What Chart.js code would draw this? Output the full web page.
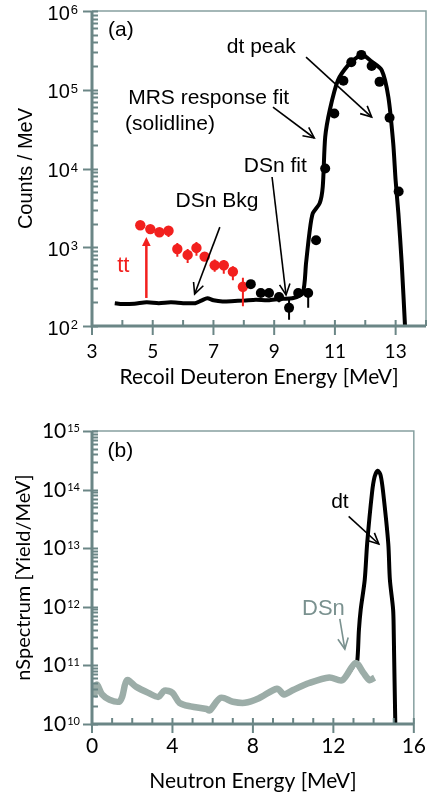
<!DOCTYPE html>
<html>
<head>
<meta charset="utf-8">
<script src="https://cdn.jsdelivr.net/npm/chart.js@4.4.1/dist/chart.umd.min.js"></script>
<style>
  html, body { margin: 0; padding: 0; background: #fff; }
  canvas { display: block; }
</style>
</head>
<body>
<canvas id="recoil" width="436" height="400"></canvas>
<canvas id="neutron" width="436" height="397"></canvas>
<script>
// ---- panel (a): recoil deuteron spectrum ----
const fitE = [3.75, 4.0, 4.4, 4.8, 5.2, 5.6, 6.0, 6.4, 6.6, 6.8, 7.0, 7.3, 7.7, 8.0, 8.4, 8.8, 9.2, 9.6,
  9.94, 10.05, 10.16, 10.27, 10.5, 10.6, 10.68, 10.83, 11.1, 11.43, 11.76, 11.93, 12.2, 12.54, 12.76, 12.92, 13.0, 13.09, 13.2, 13.31];
const fitCounts = [195, 190, 192, 200, 195, 200, 195, 195, 210, 225, 212, 205, 208, 210, 215, 212, 222, 225,
  263, 630, 1510, 2690, 3630, 5890, 25000, 55000, 132000, 204000, 263000, 275000, 229000, 178000, 81000, 21000, 7000, 2700, 630, 98];

const dataE = [8.23, 8.56, 8.83, 9.16, 9.49, 9.79, 10.12, 10.38, 10.68, 10.98, 11.28, 11.54, 11.87, 12.21, 12.47, 12.80, 13.10];
const dataCounts = [340, 263, 263, 234, 170, 263, 263, 1230, 10000, 50000, 130000, 224000, 277000, 200000, 126000, 44000, 5100];
const dataLo = [300, 235, 235, 200, 120, 230, 170, null, null, null, null, null, null, null, null, null, null];
const dataHi = [380, 290, 290, 265, 215, 295, 300, null, null, null, null, null, null, null, null, null, null];

const ttE = [4.59, 4.92, 5.22, 5.52, 5.81, 6.15, 6.44, 6.71, 7.04, 7.34, 7.64, 7.97];
const ttCounts = [1900, 1700, 1550, 1620, 950, 800, 980, 760, 590, 590, 490, 315];
const ttLo = [1750, 1550, 1400, 1350, 760, 630, 780, 680, 490, 460, 380, 178];
const ttHi = [2050, 1850, 1700, 1850, 1130, 950, 1170, 850, 700, 690, 575, 410];

const recoilXTicks = [3, 5, 7, 9, 11, 13];
const recoilDecades = [2, 3, 4, 5, 6];

// ---- panel (b): neutron spectrum ----
const nE = [0.1, 0.24, 0.5, 0.87, 1.35, 1.5, 1.74, 2.2, 2.8, 3.3, 3.6, 4.0, 4.35, 4.9, 5.7, 5.85, 6.4, 7.0, 7.6,
  8.3, 9.2, 9.55, 10.0, 10.8, 11.8, 12.45, 13.1, 13.5, 13.8, 14.05];
const dsnYield = [2.9e10, 4.7e10, 3.2e10, 2.6e10, 2.4e10, 2.9e10, 5.6e10, 4.3e10, 3.4e10, 2.9e10, 3.7e10, 3.4e10, 2.3e10, 2.0e10, 1.8e10, 1.7e10, 2.8e10, 2.4e10, 2.3e10,
  2.75e10, 4.0e10, 3.2e10, 3.8e10, 5.0e10, 6.2e10, 5.6e10, 1.1e11, 7.4e10, 5.6e10, 6.2e10];
const dtE = [13.19, 13.27, 13.36, 13.56, 13.68, 13.92, 14.05, 14.21, 14.35, 14.48, 14.73, 14.81, 14.97, 15.0, 15.08, 15.12];
const dtYield = [1.2e11, 4.0e11, 9.0e11, 2.9e12, 1.2e13, 8.7e13, 1.65e14, 2.1e14, 1.75e14, 8.7e13, 1.2e13, 2.9e12, 9.0e11, 4.0e11, 1.0e10, 5.0e9];

const neutronXTicks = [0, 4, 8, 12, 16];
const neutronDecades = [10, 11, 12, 13, 14, 15];

const axisColor = '#6b8686';
const frameColor = '#87a0a0';
const red = '#f2201e';
const grey = '#9cada8';
const greyText = '#7a918f';

const pts = (xs, ys) => xs.map((x, i) => ({ x, y: ys[i] }));
function errorBars(xs, lo, hi) {
  const out = [];
  xs.forEach((x, i) => {
    if (lo[i] == null) return;
    out.push({ x, y: lo[i] }, { x, y: hi[i] }, { x, y: null });
  });
  return out;
}

// axis lines, inside/outside ticks and 10^n labels
const axisFrame = {
  id: 'axisFrame',
  afterDatasetsDraw(chart, args, o) {
    const { ctx, chartArea: a, scales: { x, y } } = chart;
    ctx.save();
    ctx.strokeStyle = frameColor;
    ctx.lineWidth = 1.5;
    ctx.beginPath();
    ctx.moveTo(a.left, a.top); ctx.lineTo(a.right, a.top); ctx.lineTo(a.right, a.bottom);
    ctx.stroke();

    ctx.strokeStyle = axisColor;
    ctx.lineWidth = 2;
    for (let v = x.min; v <= x.max + 1e-9; v += 1) {
      const px = x.getPixelForValue(v);
      const major = o.xMajor.includes(v);
      ctx.beginPath();
      ctx.moveTo(px, a.bottom - 6);
      ctx.lineTo(px, major ? a.bottom + 9 : a.bottom);
      ctx.stroke();
    }
    const d = o.decades;
    for (let k = 0; k < d.length; k++) {
      for (let m = 1; m <= 9; m++) {
        if (k === d.length - 1 && m > 1) break;
        const py = Math.round(y.getPixelForValue(m * Math.pow(10, d[k]))) + 0.5;
        ctx.beginPath();
        ctx.moveTo(m === 1 ? a.left - 9 : a.left, py);
        ctx.lineTo(a.left + 6, py);
        ctx.stroke();
      }
    }
    ctx.lineWidth = 3;
    ctx.beginPath();
    ctx.moveTo(a.left, a.top); ctx.lineTo(a.left, a.bottom); ctx.lineTo(a.right, a.bottom);
    ctx.stroke();

    ctx.fillStyle = '#000';
    d.forEach(e => {
      const py = y.getPixelForValue(Math.pow(10, e));
      ctx.font = o.expFont;
      const ew = ctx.measureText(String(e)).width;
      ctx.textAlign = 'left';
      ctx.textBaseline = 'alphabetic';
      ctx.fillText(String(e), o.labelRight - ew, py + o.expDy);
      ctx.font = o.baseFont;
      ctx.textAlign = 'right';
      ctx.fillText('10', o.labelRight - ew - 1, py + o.baseDy);
    });
    ctx.restore();
  }
};

function arrow(ctx, x1, y1, x2, y2, color, width, filled) {
  const ang = Math.atan2(y2 - y1, x2 - x1);
  const len = filled ? 10 : 12;
  const spread = 0.45;
  ctx.strokeStyle = color;
  ctx.fillStyle = color;
  ctx.lineWidth = width;
  ctx.beginPath();
  ctx.moveTo(x1, y1);
  ctx.lineTo(filled ? x2 - Math.cos(ang) * len * 0.8 : x2, filled ? y2 - Math.sin(ang) * len * 0.8 : y2);
  ctx.stroke();
  const ax = x2 - Math.cos(ang - spread) * len, ay = y2 - Math.sin(ang - spread) * len;
  const bx = x2 - Math.cos(ang + spread) * len, by = y2 - Math.sin(ang + spread) * len;
  ctx.beginPath();
  if (filled) {
    ctx.moveTo(x2, y2); ctx.lineTo(ax, ay); ctx.lineTo(bx, by); ctx.closePath(); ctx.fill();
  } else {
    ctx.moveTo(ax, ay); ctx.lineTo(x2, y2); ctx.lineTo(bx, by); ctx.stroke();
  }
}

// labels and arrows placed in data coordinates
const notes = {
  id: 'notes',
  afterDraw(chart, args, o) {
    const { ctx, scales: { x, y } } = chart;
    ctx.save();
    ctx.textAlign = 'left';
    ctx.textBaseline = 'alphabetic';
    o.texts.forEach(t => {
      ctx.font = t.font;
      ctx.fillStyle = t.color || '#000';
      ctx.fillText(t.text, x.getPixelForValue(t.x), y.getPixelForValue(t.y));
    });
    o.arrows.forEach(r => {
      arrow(ctx, x.getPixelForValue(r.from[0]), y.getPixelForValue(r.from[1]),
        x.getPixelForValue(r.to[0]), y.getPixelForValue(r.to[1]), r.color || '#000', r.width || 1.6, r.filled);
    });
    ctx.restore();
  }
};

Chart.defaults.font.family = "'Liberation Sans', Arial, sans-serif";
Chart.defaults.color = '#000';

const noteFont = "21px 'Liberation Sans'";

new Chart(document.getElementById('recoil'), {
  type: 'scatter',
  data: {
    datasets: [
      { data: pts(dataE, dataCounts), pointRadius: 5, pointBackgroundColor: '#000', pointBorderWidth: 0, order: 1 },
      { data: pts(ttE, ttCounts), pointRadius: 5.2, pointBackgroundColor: red, pointBorderWidth: 0, order: 2 },
      { data: errorBars(dataE, dataLo, dataHi), showLine: true, spanGaps: false, pointRadius: 0, borderColor: '#000', borderWidth: 2, order: 3 },
      { data: errorBars(ttE, ttLo, ttHi), showLine: true, spanGaps: false, pointRadius: 0, borderColor: red, borderWidth: 2, order: 4 },
      { data: pts(fitE, fitCounts), showLine: true, pointRadius: 0, borderColor: '#000', borderWidth: 4, tension: 0.25, order: 5 }
    ]
  },
  options: {
    responsive: false,
    animation: false,
    events: [],
    layout: { padding: { top: 11, right: 10, left: 0, bottom: 0 } },
    plugins: {
      legend: { display: false },
      tooltip: { enabled: false },
      axisFrame: { xMajor: recoilXTicks, decades: recoilDecades, labelRight: 78,
        baseFont: "20px 'Liberation Sans'", expFont: "13px 'Liberation Sans'", baseDy: 8.5, expDy: 3 },
      notes: {
        texts: [
          { text: '(a)', x: 3.53, y: 4.8e5, font: noteFont },
          { text: 'MRS response fit', x: 4.19, y: 6.6e4, font: noteFont },
          { text: '(solidline)', x: 4.09, y: 3.1e4, font: noteFont },
          { text: 'dt peak', x: 7.44, y: 2.9e5, font: noteFont },
          { text: 'DSn fit', x: 8.0, y: 9.0e3, font: noteFont },
          { text: 'DSn Bkg', x: 5.75, y: 3.2e3, font: noteFont },
          { text: 'tt', x: 3.83, y: 485, font: "22px 'Liberation Sans'", color: red }
        ],
        arrows: [
          { from: [8.96, 6.0e4], to: [10.32, 2.44e4] },
          { from: [10.05, 2.6e5], to: [12.21, 4.5e4] },
          { from: [8.93, 7.8e3], to: [9.39, 248] },
          { from: [7.21, 1.8e3], to: [6.38, 255] },
          { from: [4.79, 227], to: [4.79, 1350], color: red, width: 2.5, filled: true }
        ]
      }
    },
    scales: {
      x: {
        type: 'linear', min: 3, max: 14,
        afterFit: s => { s.height = 74; },
        afterBuildTicks: s => { s.ticks = recoilXTicks.map(v => ({ value: v })); },
        grid: { display: false, drawTicks: false },
        border: { display: false },
        ticks: { font: { family: 'Lato', size: 19 }, color: '#000', padding: 14, autoSkip: false, maxRotation: 0 },
        title: { display: true, text: 'Recoil Deuteron Energy [MeV]', font: { family: 'Lato', size: 21 }, color: '#000', padding: { top: 0, bottom: 10 } }
      },
      y: {
        type: 'logarithmic', min: 100, max: 1e6,
        afterFit: s => { s.width = 92; },
        grid: { display: false, drawTicks: false },
        border: { display: false },
        ticks: { display: false },
        title: { display: true, text: 'Counts / MeV', font: { size: 20 }, color: '#000', padding: { top: 14, bottom: 0 } }
      }
    }
  },
  plugins: [axisFrame, notes]
});

const blackE = nE.filter(e => e < 13.19).concat(dtE);
const blackY = dsnYield.filter((v, i) => nE[i] < 13.19).concat(dtYield);

new Chart(document.getElementById('neutron'), {
  type: 'scatter',
  data: {
    datasets: [
      { data: pts(nE, dsnYield), showLine: true, pointRadius: 0, borderColor: grey, borderWidth: 6.5, tension: 0.3, order: 1 },
      { data: pts(blackE, blackY), showLine: true, pointRadius: 0, borderColor: '#000', borderWidth: 4, tension: 0.3, order: 2 }
    ]
  },
  options: {
    responsive: false,
    animation: false,
    events: [],
    layout: { padding: { top: 31, right: 13, left: 0, bottom: 0 } },
    plugins: {
      legend: { display: false },
      tooltip: { enabled: false },
      axisFrame: { xMajor: neutronXTicks, decades: neutronDecades, labelRight: 80,
        baseFont: "21px Lato", expFont: "11px Lato", baseDy: 7, expDy: 1 },
      notes: {
        texts: [
          { text: '(b)', x: 0.77, y: 3.6e14, font: noteFont },
          { text: 'dt', x: 11.89, y: 4.9e13, font: noteFont },
          { text: 'DSn', x: 10.44, y: 7.2e11, font: "22px 'Liberation Sans'", color: greyText }
        ],
        arrows: [
          { from: [12.76, 3.5e13], to: [14.26, 1.18e13] },
          { from: [12.32, 6.2e11], to: [12.57, 1.9e11], color: greyText }
        ]
      }
    },
    scales: {
      x: {
        type: 'linear', min: 0, max: 16,
        afterFit: s => { s.height = 73; },
        afterBuildTicks: s => { s.ticks = neutronXTicks.map(v => ({ value: v })); },
        grid: { display: false, drawTicks: false },
        border: { display: false },
        ticks: { font: { family: 'Lato', size: 21 }, color: '#000', padding: 10, autoSkip: false, maxRotation: 0 },
        title: { display: true, text: 'Neutron Energy [MeV]', font: { family: 'Lato', size: 21 }, color: '#000', padding: { top: 0, bottom: 3 } }
      },
      y: {
        type: 'logarithmic', min: 1e10, max: 1e15,
        afterFit: s => { s.width = 92; },
        grid: { display: false, drawTicks: false },
        border: { display: false },
        ticks: { display: false },
        title: { display: true, text: 'nSpectrum [Yield/MeV]', font: { family: 'Lato', size: 20 }, color: '#000', padding: { top: 12, bottom: 0 } }
      }
    }
  },
  plugins: [axisFrame, notes]
});
</script>
</body>
</html>
